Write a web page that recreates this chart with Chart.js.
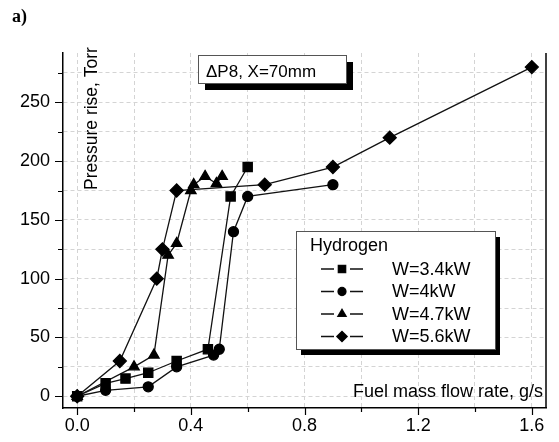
<!DOCTYPE html>
<html lang="en">
<head>
    <meta charset="UTF-8">
    <title>Pressure rise vs fuel mass flow rate</title>
    <script src="https://cdn.jsdelivr.net/npm/chart.js"></script>
    <style>
        * { margin: 0; padding: 0; box-sizing: border-box; }
        body { background: #fff; }
        .chart-container { position: relative; width: 559px; height: 442px; }
    </style>
</head>
<body>
    <div class="chart-container">
        <canvas id="pressureChart"></canvas>
    </div>

    <script>
        // series (fuel flow g/s, pressure rise Torr)
        const seriesLabels = ['W=3.4kW', 'W=4kW', 'W=4.7kW', 'W=5.6kW'];
        const pointStyles = ['rect', 'circle', 'triangle', 'rectRot'];
        const pointSizes = [6.5, 5, 6, 6.5];

        const flow34 = [0, 0.10, 0.17, 0.25, 0.35, 0.46, 0.54, 0.60];
        const rise34 = [0, 11, 15, 20, 30, 40, 170, 195];

        const flow40 = [0, 0.10, 0.25, 0.35, 0.48, 0.50, 0.55, 0.60, 0.90];
        const rise40 = [0, 5, 8, 25, 35, 40, 140, 170, 180];

        const flow47 = [0, 0.20, 0.27, 0.32, 0.35, 0.40, 0.41, 0.45, 0.49, 0.51];
        const rise47 = [0, 25, 35, 120, 130, 175, 180, 187, 181, 187];

        const flow56 = [0, 0.15, 0.28, 0.30, 0.35, 0.66, 0.90, 1.10, 1.60];
        const rise56 = [0, 30, 100, 125, 175, 180, 195, 220, 280];

        const xTicks = [0, 0.2, 0.4, 0.6, 0.8, 1.0, 1.2, 1.4, 1.6];
        const yTicks = [0, 25, 50, 75, 100, 125, 150, 175, 200, 225, 250, 275];

        const flows = [flow34, flow40, flow47, flow56];
        const rises = [rise34, rise40, rise47, rise56];

        const datasets = seriesLabels.map((label, i) => ({
            label: label,
            data: flows[i].map((x, j) => ({ x: x, y: rises[i][j] })),
            showLine: true,
            borderColor: '#111',
            borderWidth: 1.3,
            backgroundColor: '#000',
            pointBackgroundColor: '#000',
            pointBorderColor: '#000',
            pointStyle: pointStyles[i],
            pointRadius: pointSizes[i],
            tension: 0
        }));

        const isMajorX = v => Math.round(v * 10) % 4 === 0;
        const isMajorY = v => v % 50 === 0;

        // white box, grey outline, solid black drop shadow drawn as thick strokes
        function shadowBox(ctx, x, y, w, h, dx, dy) {
            ctx.save();
            ctx.setLineDash([]);
            ctx.fillStyle = '#fff';
            ctx.fillRect(x, y, w, h);
            ctx.strokeStyle = '#000';
            ctx.lineCap = 'butt';
            ctx.lineWidth = dx;
            ctx.beginPath();
            ctx.moveTo(x + w + dx / 2, y + dy);
            ctx.lineTo(x + w + dx / 2, y + h + dy);
            ctx.stroke();
            ctx.lineWidth = dy;
            ctx.beginPath();
            ctx.moveTo(x + dx, y + h + dy / 2);
            ctx.lineTo(x + w + dx, y + h + dy / 2);
            ctx.stroke();
            ctx.strokeStyle = '#555';
            ctx.lineWidth = 1;
            ctx.strokeRect(x + 0.5, y + 0.5, w, h);
            ctx.restore();
        }

        const decorations = {
            id: 'decorations',
            afterDraw(chart) {
                const ctx = chart.ctx;
                const area = chart.chartArea;
                const xs = chart.scales.x;
                const ys = chart.scales.y;
                ctx.save();
                ctx.setLineDash([]);

                // right frame line
                ctx.strokeStyle = '#000';
                ctx.lineWidth = 1.5;
                ctx.beginPath();
                ctx.moveTo(area.right, area.top);
                ctx.lineTo(area.right, area.bottom);
                ctx.stroke();

                // outward ticks
                ctx.lineWidth = 1.2;
                ctx.beginPath();
                yTicks.forEach(v => {
                    const py = Math.round(ys.getPixelForValue(v)) + 0.5;
                    ctx.moveTo(area.left, py);
                    ctx.lineTo(area.left - (isMajorY(v) ? 8 : 5), py);
                });
                xTicks.forEach(v => {
                    const px = Math.round(xs.getPixelForValue(v)) + 0.5;
                    ctx.moveTo(px, area.bottom);
                    ctx.lineTo(px, area.bottom + (isMajorX(v) ? 7 : 4));
                });
                ctx.stroke();

                // axis titles, placed inside the plot
                ctx.fillStyle = '#000';
                ctx.font = '18px "Liberation Sans", Arial, sans-serif';
                ctx.textAlign = 'right';
                ctx.textBaseline = 'alphabetic';
                ctx.fillText('Fuel mass flow rate, g/s', 543, 397);

                ctx.save();
                ctx.translate(96.5, 190);
                ctx.rotate(-Math.PI / 2);
                ctx.textAlign = 'left';
                ctx.font = '17.5px "Liberation Sans", Arial, sans-serif';
                ctx.fillText('Pressure rise, Torr', 0, 0);
                ctx.restore();

                // panel label
                ctx.textAlign = 'left';
                ctx.font = 'bold 18px "Liberation Serif", "Times New Roman", serif';
                ctx.fillText('a)', 12, 22);

                // condition box
                shadowBox(ctx, 198, 55, 148, 28, 7, 7);
                ctx.fillStyle = '#000';
                ctx.font = '17px "Liberation Sans", Arial, sans-serif';
                ctx.textAlign = 'left';
                ctx.fillText('\u0394P8, X=70mm', 206, 77);

                // legend box
                shadowBox(ctx, 296, 231, 199, 118, 5, 6);
                ctx.fillStyle = '#000';
                ctx.font = '18px "Liberation Sans", Arial, sans-serif';
                ctx.textBaseline = 'middle';
                ctx.fillText('Hydrogen', 310, 246);

                seriesLabels.forEach((label, i) => {
                    const ry = 269 + i * 22.5;
                    ctx.strokeStyle = '#111';
                    ctx.lineWidth = 1.3;
                    ctx.beginPath();
                    ctx.moveTo(321, ry);
                    ctx.lineTo(334, ry);
                    ctx.moveTo(350, ry);
                    ctx.lineTo(363, ry);
                    ctx.stroke();
                    ctx.fillStyle = '#000';
                    Chart.helpers.drawPoint(ctx, {
                        pointStyle: pointStyles[i],
                        radius: pointSizes[i] * 0.8,
                        borderWidth: 1
                    }, 342, ry);
                    ctx.fill();
                    ctx.fillStyle = '#000';
                    ctx.fillText(label, 392, ry + 1);
                });

                ctx.restore();
            }
        };

        const ctx = document.getElementById('pressureChart').getContext('2d');
        new Chart(ctx, {
            type: 'scatter',
            data: { datasets: datasets },
            options: {
                responsive: true,
                maintainAspectRatio: false,
                animation: false,
                layout: { padding: { top: 53, right: 13, left: 0, bottom: 0 } },
                plugins: {
                    legend: { display: false },
                    tooltip: { enabled: false }
                },
                scales: {
                    x: {
                        type: 'linear',
                        min: -0.05,
                        max: 1.65,
                        afterFit: s => { s.height = 34; },
                        afterBuildTicks: s => { s.ticks = xTicks.map(v => ({ value: v })); },
                        ticks: {
                            color: '#000',
                            padding: 7,
                            maxRotation: 0,
                            font: { family: '"Liberation Sans", Arial, sans-serif', size: 18 },
                            callback: v => isMajorX(v) ? v.toFixed(1) : ''
                        },
                        grid: { color: '#d4d4d4', lineWidth: 1, drawTicks: false },
                        border: { color: '#000', width: 1.5, dash: [4, 3] }
                    },
                    y: {
                        type: 'linear',
                        min: -10,
                        max: 292,
                        afterFit: s => { s.width = 63; },
                        afterBuildTicks: s => { s.ticks = yTicks.map(v => ({ value: v })); },
                        ticks: {
                            color: '#000',
                            padding: 13,
                            font: { family: '"Liberation Sans", Arial, sans-serif', size: 18 },
                            callback: v => isMajorY(v) ? String(v) : ''
                        },
                        grid: { color: '#d4d4d4', lineWidth: 1, drawTicks: false },
                        border: { color: '#000', width: 1.5, dash: [4, 3] }
                    }
                }
            },
            plugins: [decorations]
        });
    </script>
</body>
</html>
